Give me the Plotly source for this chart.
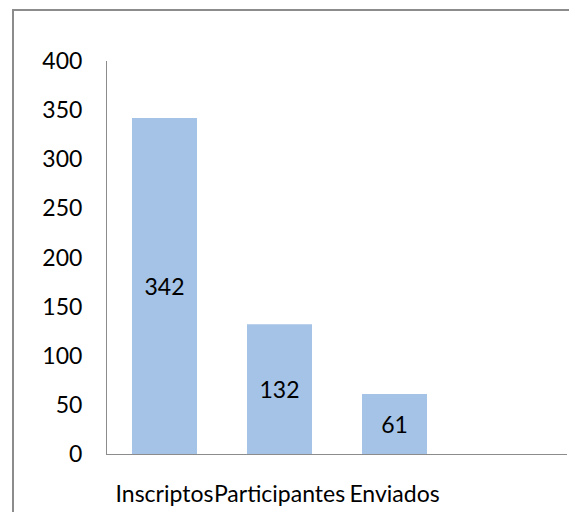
import plotly.graph_objects as go

categories = ["Inscriptos", "Participantes", "Enviados"]
values = [342, 132, 61]
y_ticks = [0, 50, 100, 150, 200, 250, 300, 350, 400]

# the page body has an 8px margin; lay out in figure coords accordingly
OFF = 8
W, H = 577, 512
L, T = 107 - OFF, 61 - OFF
R = W - (567 - OFF)
B = H - (454 - OFF)
pw, ph = W - L - R, H - T - B
FONT = "Lato"
FS = 23

fig = go.Figure()
fig.add_trace(go.Bar(
    x=list(range(len(categories))), y=values,
    width=0.565,
    marker=dict(color="#A4C3E7", line=dict(width=0)),
    text=[str(v) for v in values],
    textposition="inside", insidetextanchor="middle",
    textangle=0,
    textfont=dict(family=FONT, size=FS, color="#000000"),
    hoverinfo="skip",
))

# chart border (top-left visible, extends past canvas)
fig.add_shape(type="rect", xref="paper", yref="paper",
              x0=(13 - OFF - L) / pw, x1=(W + 20 - L) / pw,
              y0=(-20 - B) / ph, y1=(H - (10 - OFF) - B) / ph,
              line=dict(color="#8C8C8C", width=2), layer="below")

fig.update_layout(
    width=W, height=H,
    margin=dict(l=L, r=R, t=T, b=B, autoexpand=False),
    plot_bgcolor="white", paper_bgcolor="white",
    showlegend=False,
    font=dict(family=FONT, size=FS, color="#000000"),
    xaxis=dict(
        range=[-0.5, 3.5], automargin=False,
        tickmode="array", tickvals=list(range(len(categories))), ticktext=categories,
        tickangle=0,
        showline=True, linecolor="#8C8C8C", linewidth=1,
        showgrid=False, zeroline=False, ticks="",
        ticklabelstandoff=19,
        tickfont=dict(family=FONT, size=FS, color="#000000"),
    ),
    yaxis=dict(
        range=[0, 400], automargin=False,
        tickmode="array", tickvals=y_ticks, ticktext=[str(t) for t in y_ticks],
        showline=True, linecolor="#8C8C8C", linewidth=1,
        showgrid=False, zeroline=False, ticks="",
        ticklabelstandoff=19,
        tickfont=dict(family=FONT, size=FS, color="#000000"),
    ),
)

fig.write_html("out.html")
